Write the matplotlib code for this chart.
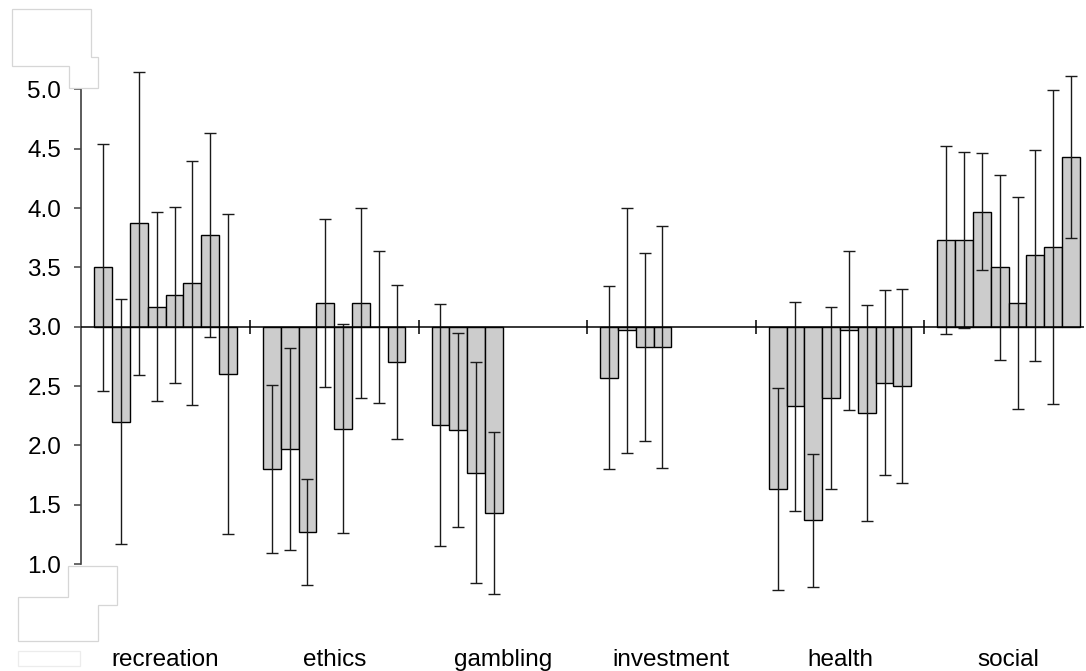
import numpy as np
import matplotlib
matplotlib.use("Agg")
import matplotlib.pyplot as plt
from matplotlib.patches import Polygon

plt.rcParams["font.family"] = ["Liberation Sans", "DejaVu Sans"]

categories = ["recreation", "ethics", "gambling", "investment", "health", "social"]

# mean ratings per item (scale midpoint 3.0) and their standard deviations
recreation_mean = [3.50, 2.20, 3.87, 3.17, 3.27, 3.37, 3.77, 2.60]
recreation_err = [1.04, 1.03, 1.28, 0.80, 0.74, 1.03, 0.86, 1.35]
ethics_mean = [1.80, 1.97, 1.27, 3.20, 2.14, 3.20, 3.00, 2.70]
ethics_err = [0.71, 0.85, 0.45, 0.71, 0.88, 0.80, 0.64, 0.65]
gambling_mean = [2.17, 2.13, 1.77, 1.43]
gambling_err = [1.02, 0.82, 0.93, 0.68]
investment_mean = [2.57, 2.97, 2.83, 2.83]
investment_err = [0.77, 1.03, 0.79, 1.02]
health_mean = [1.63, 2.33, 1.37, 2.40, 2.97, 2.27, 2.53, 2.50]
health_err = [0.85, 0.88, 0.56, 0.77, 0.67, 0.91, 0.78, 0.82]
social_mean = [3.73, 3.73, 3.97, 3.50, 3.20, 3.60, 3.67, 4.43]
social_err = [0.79, 0.74, 0.49, 0.78, 0.89, 0.89, 1.32, 0.68]

y_ticks = [1.0, 1.5, 2.0, 2.5, 3.0, 3.5, 4.0, 4.5, 5.0]
baseline = 3.0

means = [recreation_mean, ethics_mean, gambling_mean, investment_mean, health_mean, social_mean]
errs = [recreation_err, ethics_err, gambling_err, investment_err, health_err, social_err]

W, H = 1086, 671
fig = plt.figure(figsize=(W / 100, H / 100), dpi=100)

x_max = 5.95
left_px, right_px = 81.3, 81.3 + x_max * 168.6
top_px, bottom_px = 53.7, 611.6
ax = fig.add_axes([left_px / W, 1 - bottom_px / H,
                   (right_px - left_px) / W, (bottom_px - top_px) / H])
ax.set_xlim(0, x_max)
ax.set_ylim(0.6, 5.3)

slots = 8
bar_w = 0.1057
margin = (1 - slots * bar_w) / 2

for g, (m, e) in enumerate(zip(means, errs)):
    m = np.asarray(m, dtype=float)
    e = np.asarray(e, dtype=float)
    x = g + margin + bar_w * (np.arange(len(m)) + 0.5)
    ax.bar(x, m - baseline, bottom=baseline, width=bar_w, color="#cccccc",
           edgecolor="black", linewidth=1.0, zorder=2)
    ax.errorbar(x, m, yerr=e, fmt="none", ecolor="#1a1a1a", elinewidth=1.0,
                capsize=4.5, capthick=1.0, zorder=3, clip_on=False)

# category axis drawn at the scale midpoint
ax.plot([0, x_max], [baseline, baseline], color="black", linewidth=1.1, zorder=4)
ax.vlines(np.arange(1, 6), baseline - 0.06, baseline + 0.06, color="black",
          linewidth=1.1, zorder=4)

for s in ["top", "right", "bottom"]:
    ax.spines[s].set_visible(False)
ax.spines["left"].set_bounds(1.0, 5.0)
ax.spines["left"].set_color("#404040")
ax.spines["left"].set_linewidth(1.2)
ax.set_yticks(y_ticks)
ax.set_yticklabels([f"{v:.1f}" for v in y_ticks])
ax.tick_params(axis="y", direction="out", length=5.4, width=1.1, color="#404040",
               pad=9, labelsize=17.5)
ax.set_xticks([])

for g, name in enumerate(categories):
    fig.text((left_px + (g + 0.5) * 168.6) / W, 1 - 660 / H, name,
             ha="center", va="center", fontsize=17.5)

# blank label boxes along the left edge
def px_poly(pts, ec="#d6d6d6"):
    verts = [(px / W, 1 - py / H) for px, py in pts]
    fig.patches.append(Polygon(verts, closed=True, transform=fig.transFigure,
                               facecolor="white", edgecolor=ec, linewidth=0.9,
                               zorder=5))

px_poly([(11.7, 9.3), (91.3, 9.3), (91.3, 57), (98.3, 57), (98.3, 88.3),
         (68.7, 88.3), (68.7, 66.3), (11.7, 66.3)])
px_poly([(68.3, 566), (117.3, 566), (117.3, 605), (98.3, 605), (98.3, 640.7),
         (18.3, 640.7), (18.3, 597.3), (68.3, 597.3)])
px_poly([(18.3, 651), (80.3, 651), (80.3, 666), (18.3, 666)], ec="#ececec")

fig.savefig("out.png", dpi=100)
